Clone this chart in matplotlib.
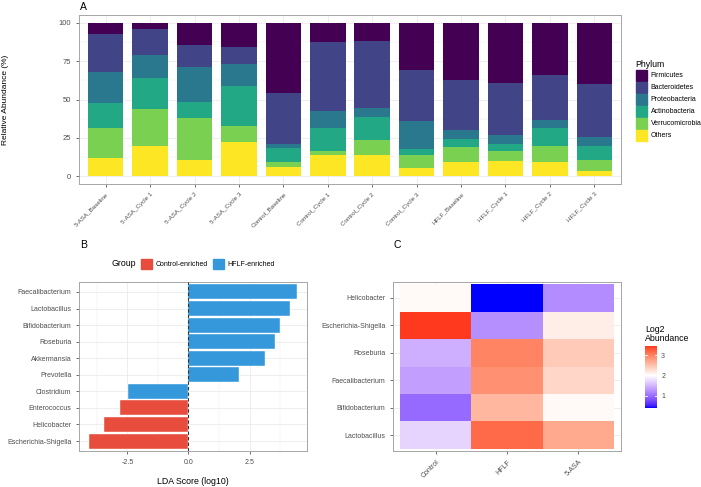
import numpy as np
import matplotlib
matplotlib.use("Agg")
import matplotlib.pyplot as plt
from matplotlib.colors import ListedColormap, Normalize
from matplotlib.patches import Patch

plt.rcParams['font.family'] = ['Liberation Sans', 'DejaVu Sans']

# ---- Panel A data: relative abundance (%) per sample, stacked bottom -> top
samples = ['5-ASA_Baseline', '5-ASA_Cycle 1', '5-ASA_Cycle 2', '5-ASA_Cycle 3',
           'Control_Baseline', 'Control_Cycle 1', 'Control_Cycle 2', 'Control_Cycle 3',
           'HFLF_Baseline', 'HFLF_Cycle 1', 'HFLF_Cycle 2', 'HFLF_Cycle 3']
others = [12.0, 19.8, 10.8, 22.4, 6.3, 14.0, 14.0, 5.4, 9.5, 10.1, 9.1, 3.4]
verrucomicrobia = [19.7, 24.0, 27.3, 10.6, 2.7, 2.8, 9.5, 8.6, 9.9, 6.3, 10.9, 6.9]
actinobacteria = [15.9, 20.4, 10.0, 25.8, 9.3, 14.9, 14.9, 4.1, 5.0, 4.7, 11.5, 9.5]
proteobacteria = [20.1, 14.5, 23.0, 14.3, 2.8, 11.0, 6.0, 18.1, 5.8, 6.1, 5.4, 6.1]
bacteroidetes = [25.0, 17.4, 14.2, 11.0, 33.2, 45.0, 43.7, 33.2, 32.3, 33.8, 29.0, 34.4]
firmicutes = [7.3, 3.9, 14.7, 15.9, 45.7, 12.3, 11.9, 30.6, 37.5, 39.0, 34.1, 39.7]

phyla = ['Firmicutes', 'Bacteroidetes', 'Proteobacteria', 'Actinobacteria',
         'Verrucomicrobia', 'Others']
phylum_colors = ['#440154', '#414487', '#2A788E', '#22A884', '#7AD151', '#FDE725']

# ---- Panel B data: LDA scores
taxa_lda = ['Escherichia-Shigella', 'Helicobacter', 'Enterococcus', 'Clostridium',
            'Prevotella', 'Akkermansia', 'Roseburia', 'Bifidobacterium',
            'Lactobacillus', 'Faecalibacterium']
lda_scores = [-4.06, -3.47, -2.79, -2.49, 2.06, 3.14, 3.54, 3.73, 4.14, 4.44]
lda_groups = ['Control-enriched', 'Control-enriched', 'Control-enriched', 'HFLF-enriched',
              'HFLF-enriched', 'HFLF-enriched', 'HFLF-enriched', 'HFLF-enriched',
              'HFLF-enriched', 'HFLF-enriched']
group_colors = {'Control-enriched': '#E74C3C', 'HFLF-enriched': '#3498DB'}

# ---- Panel C data: log2 abundance heatmap (rows bottom -> top)
hm_groups = ['Control', 'HFLF', '5-ASA']
hm_taxa = ['Lactobacillus', 'Bifidobacterium', 'Faecalibacterium', 'Roseburia',
           'Escherichia-Shigella', 'Helicobacter']
hm_lacto = [1.70, 3.20, 2.72]
hm_bifido = [0.95, 2.60, 2.05]
hm_faecali = [1.33, 2.92, 2.35]
hm_roseb = [1.45, 3.00, 2.45]
hm_esch = [3.47, 1.22, 2.15]
hm_helico = [2.05, 0.38, 1.20]

GRID = '#EBEBEB'
TICKC = '#4D4D4D'
BORDER = '#A6A6A6'


def style_axes(ax):
    for s in ax.spines.values():
        s.set_color(BORDER)
        s.set_linewidth(0.7)
    ax.tick_params(length=2, width=0.5, color='#333333', labelcolor=TICKC, labelsize=5)
    ax.set_axisbelow(True)


def srgb_to_lab(rgb):
    rgb = np.asarray(rgb, float)
    lin = np.where(rgb <= 0.04045, rgb / 12.92, ((rgb + 0.055) / 1.055) ** 2.4)
    M = np.array([[0.4124, 0.3576, 0.1805], [0.2126, 0.7152, 0.0722], [0.0193, 0.1192, 0.9505]])
    xyz = M @ lin / np.array([0.95047, 1.0, 1.08883])
    f = np.where(xyz > 0.008856, np.cbrt(xyz), 7.787 * xyz + 16 / 116)
    return np.array([116 * f[1] - 16, 500 * (f[0] - f[1]), 200 * (f[1] - f[2])])


def lab_to_srgb(lab):
    L, a, b = lab
    fy = (L + 16) / 116
    f = np.array([fy + a / 500, fy, fy - b / 200])
    xyz = np.where(f ** 3 > 0.008856, f ** 3, (f - 16 / 116) / 7.787) * np.array([0.95047, 1.0, 1.08883])
    Minv = np.linalg.inv(np.array([[0.4124, 0.3576, 0.1805], [0.2126, 0.7152, 0.0722], [0.0193, 0.1192, 0.9505]]))
    lin = np.clip(Minv @ xyz, 0, 1)
    return np.clip(np.where(lin <= 0.0031308, 12.92 * lin, 1.055 * lin ** (1 / 2.4) - 0.055), 0, 1)


# blue - white - red gradient interpolated in Lab (like ggplot gradient2)
lab_b, lab_w, lab_r = srgb_to_lab([0, 0, 1]), srgb_to_lab([1, 1, 1]), srgb_to_lab([1, 0, 0])
cols = []
for t in np.linspace(0, 1, 256):
    if t < 0.5:
        s = t / 0.5
        cols.append(lab_to_srgb(lab_b + (lab_w - lab_b) * s))
    else:
        s = (t - 0.5) / 0.5
        cols.append(lab_to_srgb(lab_w + (lab_r - lab_w) * s))
cmap = ListedColormap(cols)

fig = plt.figure(figsize=(7.01, 4.87), dpi=100)
W, H = 701, 487


def px_axes(l, t, r, b):
    return fig.add_axes([l / W, 1 - b / H, (r - l) / W, (b - t) / H])


# ================= Panel A =================
axA = px_axes(79, 15, 621, 184)
style_axes(axA)
x = np.arange(len(samples))
stack = [others, verrucomicrobia, actinobacteria, proteobacteria, bacteroidetes, firmicutes]
stack_names = phyla[::-1]
stack_cols = phylum_colors[::-1]
bottom = np.zeros(len(samples))
for vals, name, c in zip(stack, stack_names, stack_cols):
    axA.bar(x, vals, bottom=bottom, width=0.8, color=c, edgecolor='none', zorder=2)
    bottom += np.array(vals)
axA.set_xlim(-0.6, len(samples) - 0.4)
axA.set_ylim(-5, 105)
axA.set_yticks([0, 25, 50, 75, 100])
axA.set_yticks([12.5, 37.5, 62.5, 87.5], minor=True)
axA.set_xticks(x)
axA.set_xticklabels(samples, rotation=45, ha='right', va='top', rotation_mode='anchor', fontsize=4.5)
axA.tick_params(axis='y', labelsize=5.5)
axA.tick_params(which='minor', length=0)
axA.grid(True, which='major', color=GRID, lw=0.6)
axA.grid(True, which='minor', axis='y', color=GRID, lw=0.3)
fig.text(6 / W, 1 - 100 / H, 'Relative Abundance (%)', rotation=90, ha='center', va='center', fontsize=6.0)
fig.text(80 / W, 1 - 7 / H, 'A', ha='left', va='center', fontsize=7.5)

axA.legend([Patch(color=c) for c in phylum_colors], phyla, title='Phylum',
           loc='upper left', bbox_to_anchor=(630 / W, 1 - 54 / H),
           bbox_transform=fig.transFigure, frameon=False, fontsize=5.0,
           title_fontsize=6.3, handlelength=1.6, handleheight=2.05,
           labelspacing=0.15, handletextpad=0.55, borderpad=0.3, alignment='left')

# ================= Panel B =================
axB = px_axes(79, 282, 307, 451)
style_axes(axB)
yb = np.arange(len(taxa_lda))
axB.barh(yb, lda_scores, height=0.9, color=[group_colors[g] for g in lda_groups],
         edgecolor='white', linewidth=0.3, zorder=2)
axB.axvline(0, color='#333333', ls=(0, (3, 2)), lw=0.8, zorder=3)
axB.set_yticks(yb)
axB.set_yticklabels(taxa_lda)
axB.set_ylim(-0.6, len(taxa_lda) - 0.4)
axB.set_xlim(-4.48, 4.85)
axB.set_xticks([-2.5, 0.0, 2.5])
axB.set_xticklabels(['-2.5', '0.0', '2.5'])
axB.set_xticks([-3.75, -1.25, 1.25, 3.75], minor=True)
axB.tick_params(which='minor', length=0)
axB.grid(True, which='major', color=GRID, lw=0.6)
axB.grid(True, which='minor', axis='x', color=GRID, lw=0.3)
fig.text(193 / W, 1 - 481 / H, 'LDA Score (log10)', ha='center', va='center', fontsize=6.3)
fig.text(80 / W, 1 - 245 / H, 'B', ha='left', va='center', fontsize=7.5)
fig.text(111 / W, 1 - 264 / H, 'Group', ha='left', va='center', fontsize=6.3)
fig.legend([Patch(color=group_colors[k]) for k in group_colors], list(group_colors),
           loc='center left', bbox_to_anchor=(135 / W, 1 - 264 / H), ncol=2, frameon=False,
           fontsize=5.0, handlelength=1.6, handleheight=2.05, handletextpad=0.5,
           columnspacing=0.8, borderpad=0.3)

# ================= Panel C =================
axC = px_axes(393, 282, 621, 451)
style_axes(axC)
hm = np.array([hm_lacto, hm_bifido, hm_faecali, hm_roseb, hm_esch, hm_helico])
mid = 2.0
dist = max(mid - hm.min(), hm.max() - mid)
norm = Normalize(vmin=mid - dist, vmax=mid + dist)
xe = np.arange(len(hm_groups) + 1) - 0.5
ye = np.arange(len(hm_taxa) + 1) - 0.5
axC.pcolormesh(xe, ye, hm, cmap=cmap, norm=norm, edgecolors='none', antialiased=False, zorder=2)
axC.set_xlim(-0.6, len(hm_groups) - 0.4)
axC.set_ylim(-0.58, len(hm_taxa) - 0.42)
axC.set_xticks(np.arange(len(hm_groups)))
axC.set_xticklabels(hm_groups, rotation=45, ha='right', va='top', rotation_mode='anchor')
axC.set_yticks(np.arange(len(hm_taxa)))
axC.set_yticklabels(hm_taxa)
axC.grid(True, color=GRID, lw=0.6)
fig.text(393 / W, 1 - 245 / H, 'C', ha='left', va='center', fontsize=7.5)

# colorbar
cax = px_axes(645, 346, 657, 408)
cb_vals = np.linspace(hm.min(), hm.max(), 200).reshape(-1, 1)
cax.imshow(cb_vals, cmap=cmap, norm=norm, aspect='auto', origin='lower',
           extent=(0, 1, hm.min(), hm.max()))
cax.set_xticks([])
cax.yaxis.tick_right()
cax.set_yticks([1, 2, 3])
cax.tick_params(axis='y', length=0, labelsize=5, labelcolor=TICKC, pad=3)
for v in [1, 2, 3]:
    cax.plot([0, 0.2], [v, v], color='white', lw=0.6)
    cax.plot([0.8, 1], [v, v], color='white', lw=0.6)
cax.set_xlim(0, 1)
cax.set_ylim(hm.min(), hm.max())
for s in cax.spines.values():
    s.set_visible(False)
fig.text(645 / W, 1 - 334 / H, 'Log2\nAbundance', ha='left', va='center', fontsize=6.3,
         linespacing=1.0)

fig.savefig('out.png', dpi=100)
